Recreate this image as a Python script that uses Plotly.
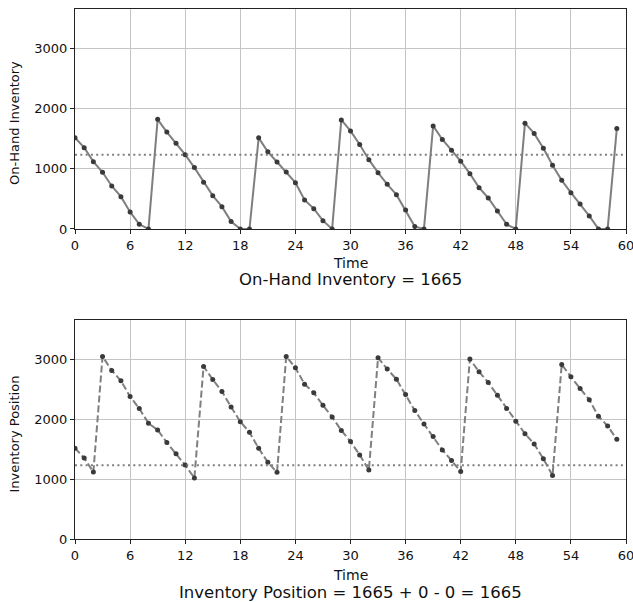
import plotly.graph_objects as go

time = list(range(60))
on_hand = [1515, 1349, 1117, 940, 713, 536, 282, 77, 0, 1819,
           1608, 1421, 1232, 1018, 774, 553, 370, 122, 0, 0,
           1512, 1280, 1111, 945, 768, 481, 337, 138, 0, 1810,
           1626, 1402, 1150, 934, 741, 569, 315, 39, 0, 1710,
           1485, 1308, 1125, 917, 685, 514, 299, 77, 0, 1755,
           1585, 1338, 1058, 807, 602, 415, 216, 0, 0, 1665]
inv_position = [1515, 1349, 1117, 3045, 2810, 2638, 2375, 2175, 1929, 1819,
                1608, 1421, 1232, 1018, 2877, 2660, 2459, 2203, 1957, 1780,
                1512, 1280, 1111, 3045, 2855, 2582, 2437, 2230, 2035, 1810,
                1626, 1402, 1150, 3022, 2833, 2665, 2409, 2141, 1918, 1710,
                1485, 1308, 1125, 3000, 2788, 2610, 2398, 2175, 1963, 1755,
                1585, 1338, 1058, 2911, 2704, 2509, 2320, 2046, 1885, 1665]
reorder_point = 1230
x_ticks = [0, 6, 12, 18, 24, 30, 36, 42, 48, 54, 60]
y_ticks = [0, 1000, 2000, 3000]

FONT = "DejaVu Sans"
LINE = "#7f7f7f"
MARK = "#3a3a3a"

fig = go.Figure()
fig.add_trace(go.Scatter(x=time, y=on_hand, mode="lines+markers",
                         line=dict(color=LINE, width=2),
                         marker=dict(color=MARK, size=5),
                         xaxis="x", yaxis="y", showlegend=False))
fig.add_trace(go.Scatter(x=[0, 60], y=[reorder_point, reorder_point], mode="lines",
                         line=dict(color=LINE, width=2, dash="2px,3.3px"),
                         xaxis="x", yaxis="y", showlegend=False))
fig.add_trace(go.Scatter(x=time, y=inv_position, mode="lines+markers",
                         line=dict(color=LINE, width=2, dash="7px,3px"),
                         marker=dict(color=MARK, size=5),
                         xaxis="x2", yaxis="y2", showlegend=False))
fig.add_trace(go.Scatter(x=[0, 60], y=[reorder_point, reorder_point], mode="lines",
                         line=dict(color=LINE, width=2, dash="2px,3.3px"),
                         xaxis="x2", yaxis="y2", showlegend=False))

ax_common = dict(range=[0, 60], tickvals=x_ticks, showgrid=True, gridcolor="#c4c4c4",
                 gridwidth=1, showline=True, linecolor="#222", linewidth=1, mirror=True,
                 ticks="outside", ticklen=4, tickcolor="#222", zeroline=False,
                 automargin=False, ticklabeloverflow="allow",
                 tickfont=dict(family=FONT, size=13, color="#111"))
ay_common = dict(range=[0, 3650], tickvals=y_ticks, showgrid=True, gridcolor="#c4c4c4",
                 gridwidth=1, showline=True, linecolor="#222", linewidth=1, mirror=True,
                 ticks="outside", ticklen=4, tickcolor="#222", zeroline=False,
                 automargin=False,
                 tickfont=dict(family=FONT, size=13, color="#111"))

fig.update_layout(
    width=633, height=602,
    margin=dict(l=75, r=7, t=9, b=63),
    plot_bgcolor="white", paper_bgcolor="white",
    font=dict(family=FONT, color="#111"),
    xaxis=dict(domain=[0, 1], anchor="y", **ax_common),
    yaxis=dict(domain=[0.585, 1], anchor="x", **ay_common),
    xaxis2=dict(domain=[0, 1], anchor="y2", **ax_common),
    yaxis2=dict(domain=[0, 0.413], anchor="x2", **ay_common),
)

ann = [
    dict(text="Time", x=0.5, y=0.5208, size=14),
    dict(text="On-Hand Inventory = 1665", x=0.5, y=0.4887, size=16.5),
    dict(text="Time", x=0.5, y=-0.0679, size=14),
    dict(text="Inventory Position = 1665 + 0 - 0 = 1665", x=0.5, y=-0.100, size=16.5),
]
for a in ann:
    fig.add_annotation(text=a["text"], x=a["x"], y=a["y"], xref="paper", yref="paper",
                       showarrow=False, xanchor="center", yanchor="middle",
                       font=dict(family=FONT, size=a["size"], color="#111"))
fig.add_annotation(text="On-Hand Inventory", x=-0.109, y=0.785, xref="paper", yref="paper",
                   showarrow=False, textangle=-90, xanchor="center", yanchor="middle",
                   font=dict(family=FONT, size=13, color="#111"))
fig.add_annotation(text="Inventory Position", x=-0.109, y=0.199, xref="paper", yref="paper",
                   showarrow=False, textangle=-90, xanchor="center", yanchor="middle",
                   font=dict(family=FONT, size=13, color="#111"))

fig.write_html("out.html", config={"displayModeBar": False},
               post_script="document.body.style.margin='0';document.body.style.overflow='hidden';")
